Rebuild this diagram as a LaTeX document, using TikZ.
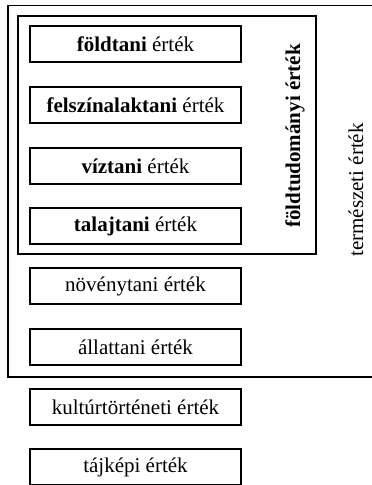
\documentclass[tikz,border=0pt]{standalone}
\usepackage{fontspec}
\setmainfont{Liberation Serif}
\begin{document}
\begin{tikzpicture}[x=1pt,y=-1pt,line width=1.2pt,
  ertek/.style={draw,rectangle,minimum width=211pt,minimum height=36pt,inner sep=0pt,font=\fontsize{21}{24}\selectfont},
  felirat/.style={rotate=90,inner sep=0pt,font=\fontsize{21}{24}\selectfont}]
\useasboundingbox (0,0) rectangle (372,485);
\clip (0,0) rectangle (372,485);
%\path[draw] (8,5.5) node {};
\draw (8,5.5) rectangle (380,377);
\draw (18,16) rectangle (316,254);
\path (135.5,44)node[ertek] (foldtani) {\textbf{földtani} érték};
\path (135.5,105)node[ertek] (felszin) {\textbf{felszínalaktani} érték};
\path (135.5,166)node[ertek] (viztani) {\textbf{víztani} érték};
\path (135.5,226)node[ertek] (talajtani) {\textbf{talajtani} érték};
\path (135.5,286)node[ertek] (novenyt) {növénytani érték};
\path (135.5,347)node[ertek] (allatt) {állattani érték};
\path (135.5,407)node[ertek] (kultur) {kultúrtörténeti érték};
\path (135.5,467)node[ertek] (tajkep) {tájképi érték};
\path (295,136)node[felirat] (foldtud) {\textbf{földtudományi érték}};
\path (356,190)node[felirat] (termesz) {természeti érték};
\end{tikzpicture}
\end{document}
